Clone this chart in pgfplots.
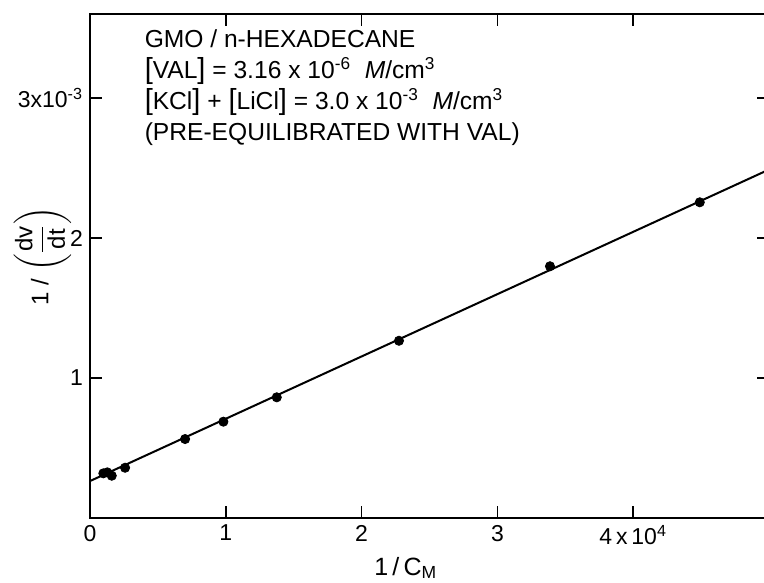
\documentclass[border=0pt]{standalone}
\usepackage{pgfplots}
\pgfplotsset{compat=1.18}
\usepackage{amsmath}
\usepackage{fontspec}
\setmainfont{Liberation Sans}
\newcommand{\lb}{{\fontsize{14.5}{14}\selectfont[}}
\newcommand{\rb}{{\fontsize{14.5}{14}\selectfont]}}

\begin{document}
\begin{tikzpicture}
\begin{axis}[
    scale only axis, width=339.5pt, height=252pt,
    xmin=0, xmax=5, ymin=0, ymax=3.6,
    xtick={0,1,2,3,4},
    xticklabels={0,1,2,3,{4\,x\,10\textsuperscript{4}}},
    ytick={1,2,3},
    yticklabels={1,2,{3x10\textsuperscript{-3}}},
    tick align=inside, major tick length=6pt,
    tick style={black, line width=0.8pt},
    axis line style={line width=0.9pt},
    ticklabel style={font=\fontsize{11.5}{13}\selectfont},
    label style={font=\fontsize{12}{14}\selectfont},
    xlabel={\fontsize{12.5}{14}\selectfont 1\,/\,C$_{\text{M}}$},
    x label style={at={(axis description cs:0.465,0)}, anchor=north, yshift=-16pt},
    ylabel={1 / $\left(\dfrac{\text{dv}}{\text{dt}}\right)$},
    y label style={at={(axis description cs:-0.07,0.52)}, anchor=center, inner sep=0pt},
]
% fitted straight line
\addplot[black, line width=1pt] coordinates {(0,0.264) (5,2.489)};
% measured points
\addplot[only marks, mark=*, mark size=2.3pt, black] coordinates {
    (0.098,0.319) (0.127,0.326) (0.160,0.302) (0.258,0.359)
    (0.70,0.564) (0.982,0.688) (1.375,0.862) (2.275,1.266)
    (3.387,1.798) (4.49,2.255)};
\node[anchor=north west, align=left, inner sep=0pt,
      font=\fontsize{12.3}{15.5}\selectfont] at (axis cs:0.40,3.49)
    {GMO / n-HEXADECANE\\
     \lb VAL\rb\ = 3.16 x 10\textsuperscript{-6}\ \ \textit{M}/cm\textsuperscript{3}\\
     \lb KCl\rb\ + \lb LiCl\rb\ = 3.0 x 10\textsuperscript{-3}\ \ \textit{M}/cm\textsuperscript{3}\\
     (PRE-EQUILIBRATED WITH VAL)};
\coordinate (BL) at (axis cs:-0.663,-0.464);
\coordinate (TR) at (axis cs:4.963,3.7);
\end{axis}
\pgfresetboundingbox
\useasboundingbox (BL) rectangle (TR);
\end{tikzpicture}
\end{document}
